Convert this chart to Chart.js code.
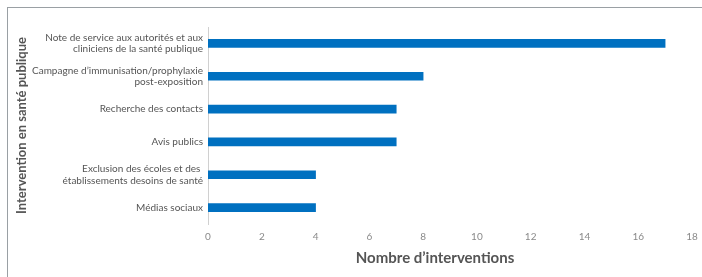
<!DOCTYPE html>
<html><head><meta charset="utf-8">
<script src="https://cdn.jsdelivr.net/npm/chart.js@4"></script>
<style>
html,body{margin:0;padding:0;background:#fff;}
#wrap{position:relative;width:702px;height:277px;overflow:hidden;}
#frame{position:absolute;left:7px;top:7px;width:800px;height:400px;border-left:1.5px solid #9aa0a4;border-top:1.5px solid #9aa0a4;}
canvas{position:absolute;left:0;top:0;}
</style></head><body>
<div id="wrap"><div id="frame"></div><canvas id="c" width="702" height="277"></canvas></div>
<script>
const categories = [
  ["Note de service aux autorités et aux", "cliniciens de la santé publique"],
  ["Campagne d’immunisation/prophylaxie", "post-exposition"],
  "Recherche des contacts",
  "Avis publics",
  ["Exclusion des écoles et des ", "établissements desoins de santé"],
  "Médias sociaux"
];
const values = [17, 8, 7, 7, 4, 4];
const xTicks = [0, 2, 4, 6, 8, 10, 12, 14, 16, 18];
const xTitle = "Nombre d’interventions";
const yTitle = "Intervention en santé publique";

const xTitlePlugin = {
  id: 'xTitle',
  afterDraw(chart) {
    const ctx = chart.ctx;
    ctx.save();
    ctx.font = 'bold 15px Lato';
    ctx.fillStyle = '#555';
    ctx.textAlign = 'center';
    ctx.textBaseline = 'middle';
    ctx.fillText(xTitle, 435, 258);
    ctx.restore();
  }
};

new Chart(document.getElementById('c'), {
  type: 'bar',
  data: { labels: categories, datasets: [{ data: values, backgroundColor: '#0070c0', barThickness: 8 }] },
  options: {
    indexAxis: 'y', responsive: false, animation: false,
    layout: { padding: { left: 14, right: 10, top: 27, bottom: 8 } },
    plugins: { legend: { display: false }, tooltip: { enabled: false } },
    scales: {
      x: {
        min: 0, max: 18,
        afterBuildTicks: s => { s.ticks = xTicks.map(v => ({ value: v })); },
        grid: { display: false, drawTicks: false }, border: { display: false },
        ticks: { color: '#8a8a8a', font: { family: 'Lato', size: 10 }, padding: 7 },
        afterFit: s => { s.height = 45; s.paddingRight = 0; s.paddingLeft = 0; }
      },
      y: {
        grid: { display: false, drawTicks: false },
        border: { display: true, color: '#d0d0d0', width: 1 },
        ticks: { color: '#555', font: { family: 'Lato', size: 10, lineHeight: 1.15 }, padding: 5 },
        title: { display: true, text: yTitle, color: '#555', font: { family: 'Lato', size: 13, weight: 'bold' }, padding: 0 },
        afterFit: s => { s.width = 194; }
      }
    }
  },
  plugins: [xTitlePlugin]
});
</script></body></html>
